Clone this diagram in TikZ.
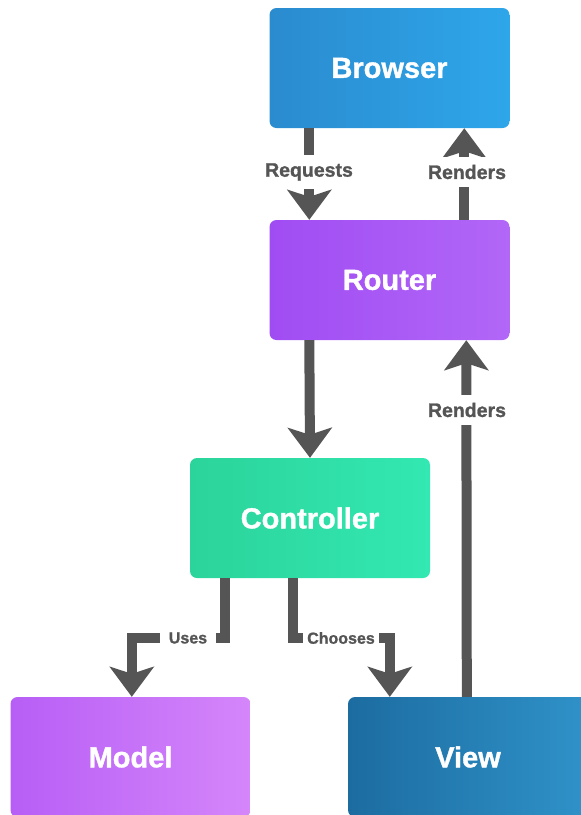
\documentclass[tikz,border=0pt]{standalone}
\usepackage{fontspec}
\setmainfont{Liberation Sans}
\newfontfamily\heavyfont{Liberation Sans}[FakeBold=1.2]
\usetikzlibrary{arrows.meta}
\definecolor{arrowgray}{HTML}{555555}
\definecolor{browserL}{HTML}{2B8BCF}
\definecolor{browserR}{HTML}{2EA6EA}
\definecolor{routerL}{HTML}{A04CF3}
\definecolor{routerR}{HTML}{B267F7}
\definecolor{ctrlL}{HTML}{2BD49A}
\definecolor{ctrlR}{HTML}{33E8B2}
\definecolor{modelL}{HTML}{B75EF6}
\definecolor{modelR}{HTML}{D586FA}
\definecolor{viewL}{HTML}{1C6CA0}
\definecolor{viewR}{HTML}{2F92C9}
\begin{document}
\begin{tikzpicture}[x=1pt,y=-1pt,
  box/.style={minimum width=240pt, minimum height=120pt, rounded corners=7pt,
    text=white, inner sep=0pt, font=\heavyfont\fontsize{29}{31}\selectfont\bfseries},
  conn/.style={draw=arrowgray, line width=10pt,
    -{Stealth[length=30pt,width=44pt,inset=7pt]}},
  lbl/.style={fill=white, text=arrowgray, inner xsep=3pt, inner ysep=8pt,
    font=\heavyfont\fontsize{19.5}{21}\selectfont\bfseries},
  slbl/.style={fill=white, text=arrowgray, inner xsep=4pt, inner ysep=4pt,
    font=\heavyfont\fontsize{16}{17}\selectfont\bfseries}]
\useasboundingbox (0,0) rectangle (581,815);

\node[box, left color=browserL, right color=browserR] (browser) at (389.5,68) {Browser};
\node[box, left color=routerL, right color=routerR] (router) at (389.5,280) {Router};
\node[box, left color=ctrlL, right color=ctrlR] (ctrl) at (310,518) {Controller};
\node[box, left color=modelL, right color=modelR] (model) at (130.5,757) {Model};
\node[box, left color=viewL, right color=viewR] (view) at (468,757) {View};

% Browser -> Router (Requests)
\draw[conn] ([xshift=40pt]browser.south west) -- ([xshift=40pt]router.north west);
\node[lbl] (lreq) at (309,172) {Requests};
% Router -> Browser (Renders)
\draw[conn] ([xshift=195pt]router.north west) -- ([xshift=195pt]browser.south west);
\node[lbl] (lren1) at (467,172) {Renders};
% Router -> Controller
\draw[conn] ([xshift=40pt]router.south west) -- (ctrl.north);
% View -> Router (Renders)
\draw[conn] ([xshift=119pt]view.north west) -- ([xshift=197pt]router.south west);
\node[lbl] (lren2) at (467,410) {Renders};
% Controller -> Model (Uses)
\draw[conn] ([xshift=35pt]ctrl.south west) -- ++(0,60) -| ([xshift=121.5pt]model.north west);
\node[slbl, inner xsep=9pt] (luses) at (188,638) {Uses};
% Controller -> View (Chooses)
\draw[conn] ([xshift=103pt]ctrl.south west) -- ++(0,60) -| ([xshift=42pt]view.north west);
\node[slbl] (lchoose) at (341,638) {Chooses};
\end{tikzpicture}
\end{document}
